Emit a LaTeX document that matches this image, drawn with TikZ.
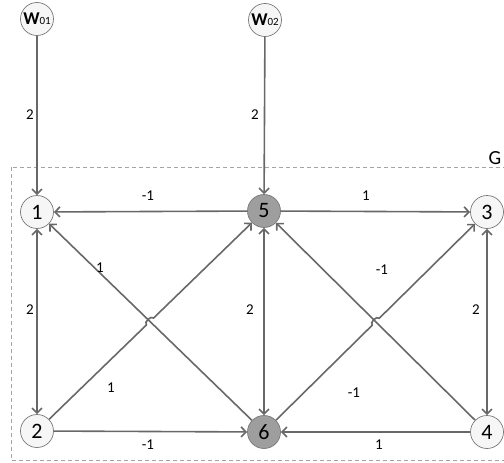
\documentclass[tikz,border=0pt]{standalone}
\usepackage{fontspec}
\setmainfont{Carlito}
\usetikzlibrary{arrows.meta,calc}
\definecolor{edgegray}{RGB}{104,104,104}
\definecolor{ringgray}{RGB}{120,120,120}
\definecolor{nodefill}{RGB}{246,246,246}
\definecolor{hubfill}{RGB}{158,158,158}
\definecolor{framegray}{RGB}{165,165,165}
\begin{document}
\begin{tikzpicture}[x=1pt,y=-1pt,
  >={Straight Barb[length=5pt,width=10pt]},
  vtx/.style={circle,draw=ringgray,line width=0.7pt,fill=nodefill,
    minimum size=33pt,inner sep=0pt,font=\fontsize{22}{22}\selectfont},
  hub/.style={vtx,fill=hubfill},
  edge/.style={draw=edgegray,line width=1.6pt},
  wt/.style={inner sep=1pt,font=\fontsize{15}{15}\selectfont},
  frame/.style={draw=framegray,line width=0.6pt,dash pattern=on 4pt off 3pt}]
\useasboundingbox (0,0) rectangle (504,463);

% subnetwork boundary (its right side lies beyond the page edge)
\draw[frame] (11,167) rectangle (512,460);
\node[font=\fontsize{20}{20}\selectfont] (glabel) at (495,158) {G};

% vertices
\node[vtx] (w1) at (37,19) {{\fontsize{18}{18}\selectfont\bfseries W}{\fontsize{11}{11}\selectfont 01}};
\node[vtx] (w2) at (265,20) {{\fontsize{18}{18}\selectfont\bfseries W}{\fontsize{11}{11}\selectfont 02}};
\node[vtx] (n1) at (37,212) {1};
\node[hub] (n5) at (264,211) {5};
\node[vtx] (n3) at (487,212) {3};
\node[vtx] (n2) at (37,431) {2};
\node[hub] (n6) at (264,432) {6};
\node[vtx] (n4) at (487,432) {4};

% crossing points of the diagonals
\coordinate (xa) at (intersection of n2--n5 and n6--n1);
\coordinate (xb) at (intersection of n6--n3 and n4--n5);

% edges
\draw[edge,->] (w1) -- (n1);
\draw[edge,->] (w2) -- (n5);
\draw[edge,->] (n5) -- (n1);
\draw[edge,->] (n5) -- (n3);
\draw[edge,<->] (n1) -- (n2);
\draw[edge,<->] (n5) -- (n6);
\draw[edge,<->] (n3) -- (n4);
\draw[edge,->] (n6) -- (n1);
\draw[edge,->] (n4) -- (n5);
\draw[edge,->] (n2) -- (n6);
\draw[edge,->] (n4) -- (n6);
% diagonals that jump over the crossing lines
\draw[edge,->] (n2) -- ($(xa)!5pt!(n2)$) to[bend left=90] ($(xa)!5pt!(n5)$) -- (n5);
\draw[edge,->] (n6) -- ($(xb)!5pt!(n6)$) to[bend left=90] ($(xb)!5pt!(n3)$) -- (n3);

% weights
\node[wt] (l1) at (30,115) {2};
\node[wt] (l2) at (255,115) {2};
\node[wt] (l3) at (148,196) {-1};
\node[wt] (l4) at (366,196) {1};
\node[wt] (l5) at (100,268) {1};
\node[wt] (l6) at (382,270) {-1};
\node[wt] (l7) at (30,310) {2};
\node[wt] (l8) at (250,310) {2};
\node[wt] (l9) at (476,310) {2};
\node[wt] (l10) at (111,388) {1};
\node[wt] (l11) at (354,393) {-1};
\node[wt] (l12) at (148,445) {-1};
\node[wt] (l13) at (379,445) {1};
\end{tikzpicture}
\end{document}
